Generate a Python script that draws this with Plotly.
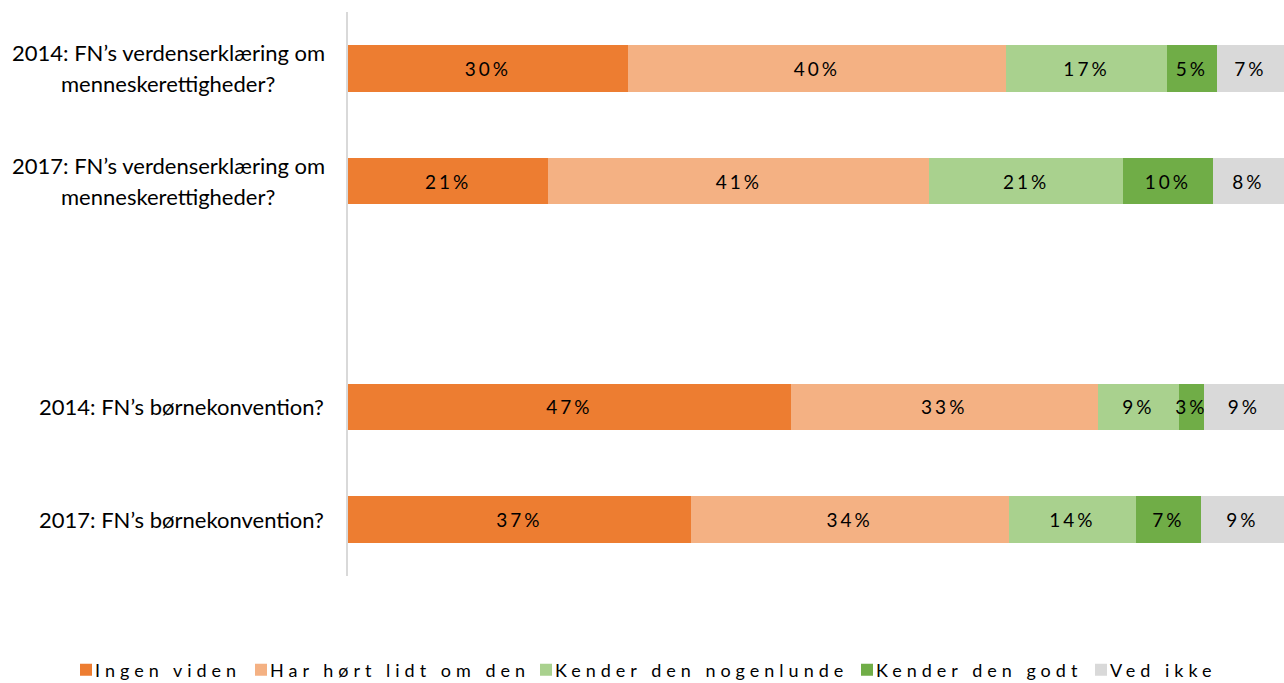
import plotly.graph_objects as go

categories = [
    "2014: FN’s verdenserklæring om<br>menneskerettigheder?",
    "2017: FN’s verdenserklæring om<br>menneskerettigheder?",
    " ",
    "2014: FN’s børnekonvention?",
    "2017: FN’s børnekonvention?",
]
series_names = ["Ingen viden", "Har hørt lidt om den", "Kender den nogenlunde", "Kender den godt", "Ved ikke"]
ingen_viden = [29.9, 21.4, None, 47.3, 36.6]
har_hoert = [40.4, 40.7, None, 32.8, 34.0]
nogenlunde = [17.2, 20.7, None, 8.7, 13.6]
godt = [5.3, 9.6, None, 2.6, 6.9]
ved_ikke = [7.2, 7.6, None, 8.6, 8.9]
series_values = [ingen_viden, har_hoert, nogenlunde, godt, ved_ikke]
colors = ["#ED7D31", "#F4B183", "#A9D18E", "#70AD47", "#D9D9D9"]

PLOT_L, PLOT_W = 348, 936
legend_px = [66, 241, 526, 847, 1081]
legend_entry_w = [160, 240, 280, 200, 120]

fig = go.Figure()
legend_ids = ["legend", "legend2", "legend3", "legend4", "legend5"]
for i, (name, vals, col) in enumerate(zip(series_names, series_values, colors)):
    fig.add_trace(go.Bar(
        y=categories, x=vals, name=name, orientation="h",
        marker=dict(color=col, line=dict(width=0)),
        texttemplate="%{x:.0f}%", textposition="inside", insidetextanchor="middle",
        textangle=0,
        textfont=dict(family="Lato", size=19, color="#000000"),
        legend=legend_ids[i], hoverinfo="skip",
    ))

layout_legends = {}
for i, lid in enumerate(legend_ids):
    layout_legends[lid] = dict(
        orientation="h", x=(legend_px[i] - PLOT_L) / PLOT_W, xanchor="left",
        y=-0.1667, yanchor="middle", bgcolor="rgba(0,0,0,0)",
        entrywidth=legend_entry_w[i], entrywidthmode="pixels",
        font=dict(family="Lato", size=18, color="#000000"),
        itemclick=False, itemdoubleclick=False,
    )

label_font = dict(family="Lato", size=22, color="#000000")
annotations = []
for cat in categories:
    if not cat.strip():
        continue
    lines = cat.split("<br>")
    if len(lines) == 1:
        annotations.append(dict(x=0, xref="paper", y=cat, yref="y", text=lines[0], showarrow=False,
                                xanchor="right", xshift=-22, font=label_font))
    else:
        annotations.append(dict(x=0, xref="paper", y=cat, yref="y", text=lines[0], showarrow=False,
                                xanchor="right", xshift=-21, yshift=15.5, font=label_font))
        annotations.append(dict(x=0, xref="paper", y=cat, yref="y", text=lines[1], showarrow=False,
                                xanchor="center", xshift=-180.5, yshift=-15.5, font=label_font))

fig.update_layout(
    barmode="stack", bargap=0.59,
    width=1284, height=683,
    margin=dict(l=348, r=0, t=12, b=107, autoexpand=False),
    plot_bgcolor="white", paper_bgcolor="white",
    xaxis=dict(range=[0, 100], visible=False, fixedrange=True),
    yaxis=dict(type="category", categoryorder="array", categoryarray=categories,
               autorange="reversed", showticklabels=False, ticks="",
               showline=True, linecolor="#D9D9D9", linewidth=2, showgrid=False, zeroline=False),
    annotations=annotations,
    uniformtext=dict(minsize=19, mode="show"),
    showlegend=True,
    **layout_legends,
)

post = """
document.body.style.margin='0';
var st=document.createElement('style');
st.textContent='.legendtext,.legend2text,.legend3text,.legend4text,.legend5text{letter-spacing:5px;transform:translateX(-11px);} .bartext{letter-spacing:3px;} body{margin:0;overflow:hidden;}';
document.head.appendChild(st);
"""
fig.write_html("out.html", post_script=post, config={"displayModeBar": False})
